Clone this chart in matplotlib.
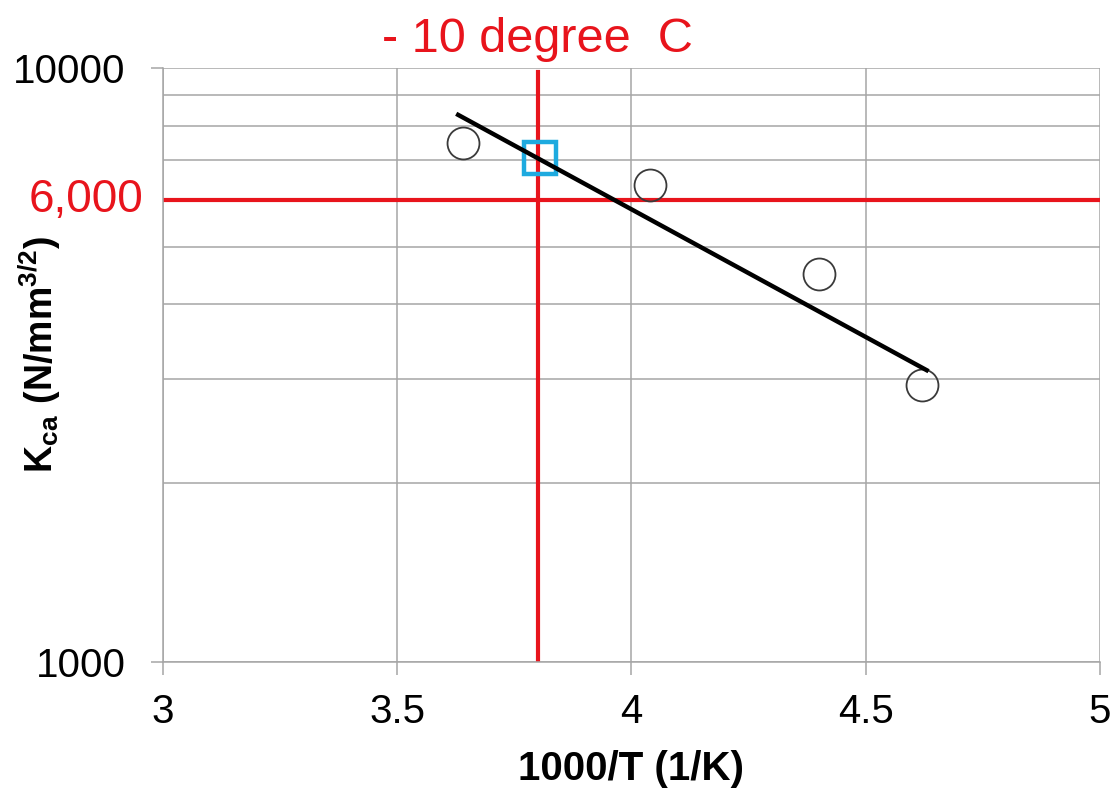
import matplotlib
matplotlib.use('Agg')
import matplotlib.pyplot as plt
from matplotlib.ticker import FixedLocator, NullFormatter

# measured points (1000/T, K_ca)
inv_temp = [3.64, 4.04, 4.40, 4.62]
k_ca = [7475, 6350, 4500, 2925]

# drawn trend line end points
fit_x = [3.63, 4.63]
fit_y = [8340, 3100]

# estimated value at -10 degree C
est_x = [3.805]
est_y = [7050]

ref_x = 3.80
ref_y = 6000

x_ticks = [3, 3.5, 4, 4.5, 5]
x_labels = ['3', '3.5', '4', '4.5', '5']
y_ticks = [1000, 10000]
y_labels = ['1000', '10000']
y_minor = [2000, 3000, 4000, 5000, 6000, 7000, 8000, 9000]

plt.rcParams['font.family'] = ['Liberation Sans', 'DejaVu Sans']
plt.rcParams['mathtext.fontset'] = 'custom'
plt.rcParams['mathtext.rm'] = 'Liberation Sans'
plt.rcParams['mathtext.bf'] = 'Liberation Sans:bold'

grid_col = '#a6a6a6'
red = '#e8141c'

fig = plt.figure(figsize=(11.15, 7.92), dpi=100)
ax = fig.add_axes([0.1462, 0.1641, 0.8403, 0.75])

ax.set_yscale('log')
ax.set_xlim(3, 5)
ax.set_ylim(1000, 10000)

ax.set_xticks(x_ticks)
ax.set_xticklabels(x_labels)
ax.yaxis.set_major_locator(FixedLocator(y_ticks))
ax.set_yticklabels(y_labels)
ax.yaxis.set_minor_locator(FixedLocator(y_minor))
ax.yaxis.set_minor_formatter(NullFormatter())

ax.grid(True, which='major', color=grid_col, linewidth=1.1)
ax.grid(True, which='minor', axis='y', color=grid_col, linewidth=1.1)
ax.set_axisbelow(True)

for side in ['left', 'bottom', 'top', 'right']:
    ax.spines[side].set_color(grid_col)
    ax.spines[side].set_linewidth(1.1)
ax.spines['top'].set_visible(False)
ax.spines['right'].set_visible(False)

ax.tick_params(axis='both', which='major', direction='out', length=9,
               width=1.1, color=grid_col, labelsize=29, labelcolor='black')
ax.tick_params(axis='y', which='major', pad=18)
ax.tick_params(axis='x', which='major', pad=13)
ax.tick_params(axis='y', which='minor', length=0)

# -10 degree C reference lines
ax.axvline(ref_x, ymax=0.993, color=red, linewidth=3, zorder=2)
ax.axhline(ref_y, color=red, linewidth=3, zorder=2)

ax.plot(inv_temp, k_ca, linestyle='none', marker='o', markersize=23,
        markerfacecolor='none', markeredgecolor='#3a3a3a',
        markeredgewidth=1.3, zorder=3)
ax.plot(est_x, est_y, linestyle='none', marker='s', markersize=23,
        markerfacecolor='none', markeredgecolor='#1eaadf',
        markeredgewidth=3.2, zorder=3)
ax.plot(fit_x, fit_y, color='black', linewidth=3.2, zorder=4)

ax.annotate('6,000', xy=(0, ref_y), xycoords=('axes fraction', 'data'),
            xytext=(-14, 0), textcoords='offset points',
            ha='right', va='center', fontsize=33, color=red)

ax.text(ref_x, 1.01, '- 10 degree  C', transform=ax.get_xaxis_transform(),
        ha='center', va='bottom', fontsize=35, color=red)

ax.set_xlabel('1000/T (1/K)', fontsize=29, fontweight='bold', labelpad=14)
fig.text(0.036, 0.552, r'$\mathbf{K_{ca}\ (N/mm^{3/2})}$', fontsize=27,
         rotation=90, ha='center', va='center')

fig.savefig('out.png', dpi=100)
